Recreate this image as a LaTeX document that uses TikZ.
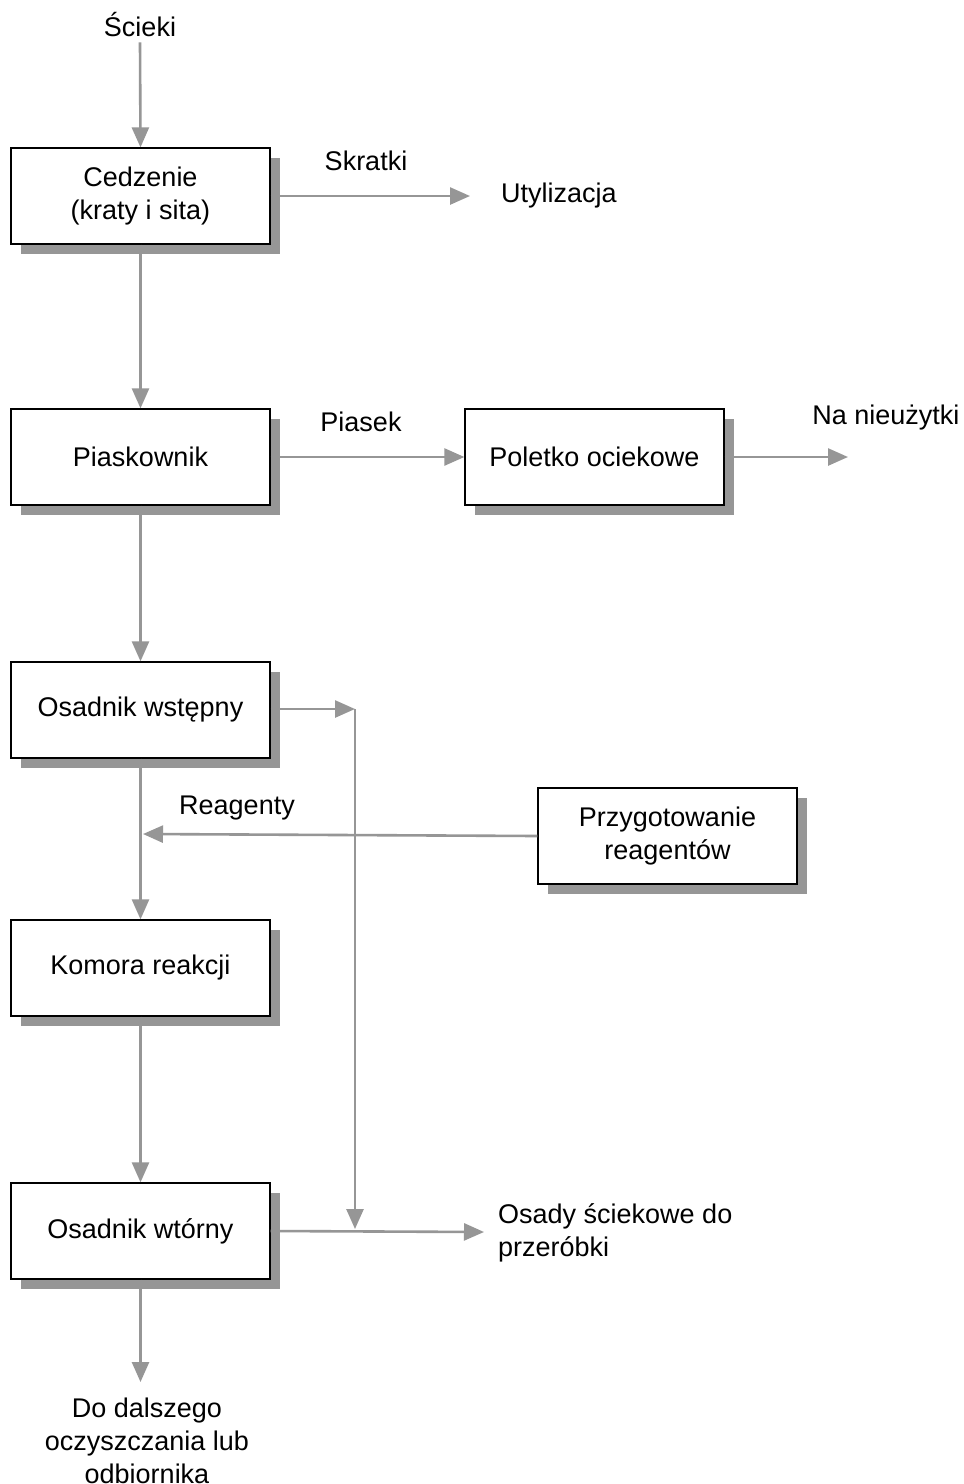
\documentclass[tikz,border=0pt]{standalone}
\usepackage{fontspec}
\setmainfont{Liberation Sans}
\usetikzlibrary{arrows.meta,shadows}
\definecolor{arr}{RGB}{150,150,150}
\definecolor{shd}{RGB}{150,150,150}
\begin{document}
\begin{tikzpicture}[x=1pt,y=-1pt,
  every node/.style={font=\fontsize{27}{33}\selectfont, inner sep=0pt},
  box/.style={draw=black, line width=1.3pt, fill=white, minimum width=259pt, minimum height=96pt, align=center,
    drop shadow={shadow xshift=10pt, shadow yshift=-10pt, fill=shd, opacity=1}},
  lbl/.style={align=center},
  conn/.style={draw=arr, line width=2.6pt, -{Triangle[length=20pt,width=17pt]}},
  plain/.style={draw=arr, line width=2.6pt}]
\useasboundingbox (0,0) rectangle (964,1484);
\fill[white] (0,0) rectangle (964,1484);

\node[lbl] (scieki) at (140,25) {Ścieki};
\node[box] (ced) at (140.5,196) {Cedzenie\\(kraty i sita)};
\node[lbl] (skr) at (366,161) {Skratki};
\node[lbl] (uty) at (559,196) {Utylizacja};
\coordinate (utyin) at (470,196);

\node[box] (pia) at (140.5,457) {Piaskownik};
\node[lbl] (pias) at (361,422) {Piasek};
\node[box] (pol) at (594.5,457) {Poletko ociekowe};
\node[lbl] (nani) at (886,418) {Na nieużytki};
\coordinate (naniin) at (848,457);

\node[box] (osw) at (140.5,710) {Osadnik wstępny};
\coordinate (j1) at (355,709);
\coordinate (j2) at (355,1229);

\node[box] (prz) at (667.5,836) {Przygotowanie\\reagentów};
\node[lbl] (rea) at (237,808) {Reagenty};
\coordinate (reain) at (143,834);

\node[box] (kom) at (140.5,968) {Komora reakcji};
\node[box] (owt) at (140.5,1231) {Osadnik wtórny};
\node[lbl, align=left, anchor=west] (osady) at (498,1233) {Osady ściekowe do\\przeróbki};
\coordinate (osin) at (484,1232);

\node[lbl] (dal) at (147,1441) {Do dalszego\\oczyszczania lub\\odbiornika};
\coordinate (dalin) at (140.5,1382);

\draw[conn] (scieki.south) ++(0,5) coordinate (s0) -- (ced.north);
\draw[conn] (ced.east) -- (utyin);
\draw[conn] (ced.south) -- (pia.north);
\draw[conn] (pia.east) -- (pol.west);
\draw[conn] (pol.east) -- (naniin);
\draw[conn] (pia.south) -- (osw.north);
\draw[conn] (osw.east |- j1) -- (j1);
\draw[conn] (j1) -- (j2);
\draw[conn] (prz.west) -- (reain);
\draw[conn] (osw.south) -- (kom.north);
\draw[conn] (kom.south) -- (owt.north);
\draw[conn] (owt.east) -- (osin);
\draw[conn] (owt.south) -- (dalin);
\end{tikzpicture}
\end{document}
